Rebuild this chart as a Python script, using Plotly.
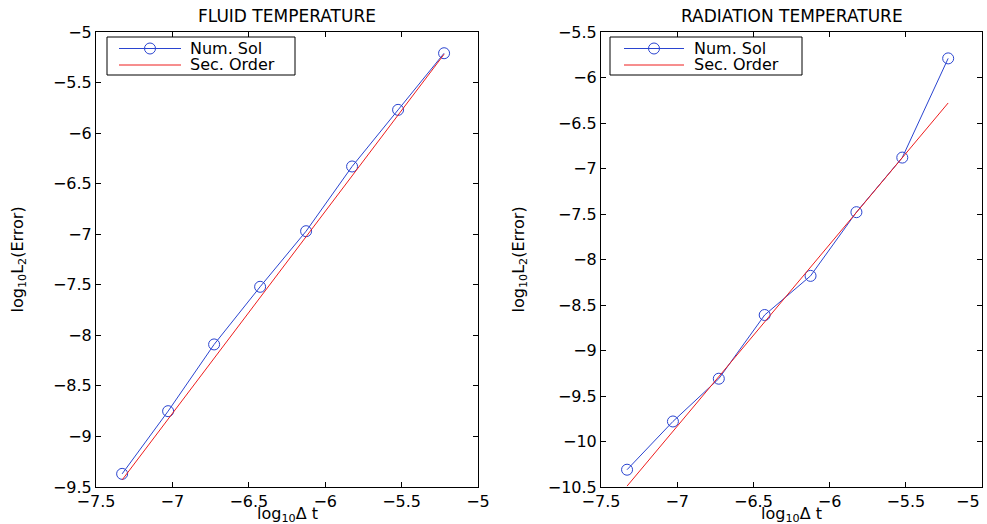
import plotly.graph_objects as go

# data
log_dt = [-7.329, -7.028, -6.727, -6.426, -6.125, -5.824, -5.523, -5.222]
fluid_num = [-9.37, -8.75, -8.09, -7.52, -6.97, -6.33, -5.77, -5.21]
fluid_sec = [-9.43, -8.83, -8.23, -7.63, -7.03, -6.42, -5.82, -5.22]
rad_num = [-10.31, -9.78, -9.31, -8.61, -8.18, -7.48, -6.88, -5.79]
rad_sec = [-10.49, -9.89, -9.29, -8.69, -8.08, -7.48, -6.88, -6.28]
titles = ["FLUID TEMPERATURE", "RADIATION TEMPERATURE"]
series_names = ["Num. Sol", "Sec. Order"]
x_ticks = [-7.5, -7, -6.5, -6, -5.5, -5]
x_ticklabels = ["−7.5", "−7", "−6.5", "−6", "−5.5", "−5"]
fluid_ticks = [-9.5, -9, -8.5, -8, -7.5, -7, -6.5, -6, -5.5, -5]
rad_ticks = [-10.5, -10, -9.5, -9, -8.5, -8, -7.5, -7, -6.5, -6, -5.5]

W, H = 987, 524
FONT = "DejaVu Sans, Verdana, sans-serif"
BLUE = "#2a44d0"
RED = "#ee1c1c"
FS = 16

def px(xp):  # page x -> paper fraction
    return xp / W

def py(yp):  # page y -> paper fraction
    return 1 - yp / H

fig = go.Figure()

fig.add_trace(go.Scatter(x=log_dt, y=fluid_num, mode="lines+markers", name=series_names[0],
                         line=dict(color=BLUE, width=1),
                         marker=dict(symbol="circle-open", size=11, color=BLUE, line=dict(width=1)),
                         xaxis="x", yaxis="y"))
fig.add_trace(go.Scatter(x=log_dt, y=fluid_sec, mode="lines", name=series_names[1],
                         line=dict(color=RED, width=1), xaxis="x", yaxis="y"))
fig.add_trace(go.Scatter(x=log_dt, y=rad_num, mode="lines+markers", name=series_names[0],
                         line=dict(color=BLUE, width=1),
                         marker=dict(symbol="circle-open", size=11, color=BLUE, line=dict(width=1)),
                         xaxis="x2", yaxis="y2"))
fig.add_trace(go.Scatter(x=log_dt, y=rad_sec, mode="lines", name=series_names[1],
                         line=dict(color=RED, width=1), xaxis="x2", yaxis="y2"))

ytop, ybot = 32, 487
ydom = [py(ybot), py(ytop)]
left_x = (96, 478)
right_x = (601, 982)
xd1 = [px(left_x[0]), px(left_x[1])]
xd2 = [px(right_x[0]), px(right_x[1])]

def xaxis(dom, anchor, labels):
    return dict(domain=dom, anchor=anchor, range=[-7.5, -5], tickvals=x_ticks, ticktext=labels,
                ticks="inside", ticklen=5, tickcolor="black", showline=True, linecolor="black",
                linewidth=1, mirror="ticks", showgrid=False, zeroline=False, automargin=False,
                ticklabeloverflow="allow",
                tickfont=dict(size=FS, color="black", family=FONT))

def yaxis(rng, ticks, anchor):
    return dict(domain=ydom, anchor=anchor, range=rng, tickvals=ticks,
                ticks="inside", ticklen=5, tickcolor="black", showline=True, linecolor="black",
                linewidth=1, mirror="ticks", showgrid=False, zeroline=False, automargin=False,
                ticklabeloverflow="allow",
                tickfont=dict(size=FS, color="black", family=FONT))

# the last label of the right panel is drawn separately, nudged left to stay inside the window
right_labels = x_ticklabels[:-1] + [""]

annotations = [dict(text=x_ticklabels[-1], x=px(right_x[1]), y=x_ticks[-1], xref="paper",
                    yref="paper", xanchor="right", yanchor="top", showarrow=False,
                    font=dict(size=FS, color="black", family=FONT))]
annotations[0]["y"] = py(ybot + 3)
shapes = []
panels = [(left_x, titles[0], 18, (107, 295), (119, 181), 188),
          (right_x, titles[1], 519, (610, 802), (624, 684), 692)]
for (x0, x1), title, ytx, (bx0, bx1), (lx0, lx1), tx in panels:
    cx = (x0 + x1) / 2
    annotations.append(dict(text=title, x=px(cx), y=py(15.5), xref="paper", yref="paper",
                            xanchor="center", yanchor="middle", showarrow=False,
                            font=dict(size=17, color="black", family=FONT)))
    annotations.append(dict(text="log<sub>10</sub>Δ t", x=px(cx), y=py(514), xref="paper",
                            yref="paper", xanchor="center", yanchor="middle", showarrow=False,
                            font=dict(size=FS, color="black", family=FONT)))
    annotations.append(dict(text="log<sub>10</sub>L<sub>2</sub>(Error)", x=px(ytx),
                            y=py((ytop + ybot) / 2), xref="paper", yref="paper", textangle=-90,
                            xanchor="center", yanchor="middle", showarrow=False,
                            font=dict(size=FS, color="black", family=FONT)))
    # legend box
    shapes.append(dict(type="rect", xref="paper", yref="paper", x0=px(bx0), x1=px(bx1),
                       y0=py(75), y1=py(37), line=dict(color="black", width=1),
                       fillcolor="white", layer="above"))
    for name, yl, col, mark in [(series_names[0], 48.5, BLUE, True),
                                (series_names[1], 65, RED, False)]:
        shapes.append(dict(type="line", xref="paper", yref="paper", x0=px(lx0), x1=px(lx1),
                           y0=py(yl), y1=py(yl), line=dict(color=col, width=1), layer="above"))
        if mark:
            mc = (lx0 + lx1) / 2
            shapes.append(dict(type="circle", xref="paper", yref="paper",
                               x0=px(mc - 5.5), x1=px(mc + 5.5), y0=py(yl + 5.5), y1=py(yl - 5.5),
                               line=dict(color=col, width=1), fillcolor="rgba(0,0,0,0)",
                               layer="above"))
        annotations.append(dict(text=name, x=px(tx), y=py(yl), xref="paper", yref="paper",
                                xanchor="left", yanchor="middle", showarrow=False,
                                font=dict(size=16, color="black", family=FONT)))

fig.update_layout(
    width=W, height=H, paper_bgcolor="white", plot_bgcolor="white",
    margin=dict(l=0, r=0, t=0, b=0), showlegend=False,
    xaxis=xaxis(xd1, "y", x_ticklabels), yaxis=yaxis([-9.5, -5], fluid_ticks, "x"),
    xaxis2=xaxis(xd2, "y2", right_labels), yaxis2=yaxis([-10.5, -5.5], rad_ticks, "x2"),
    annotations=annotations, shapes=shapes,
)

fig.write_html(
    "out.html",
    config={"displayModeBar": False},
    post_script="document.body.style.margin='0';document.body.style.overflow='hidden';"
                "document.documentElement.style.overflow='hidden';",
)
